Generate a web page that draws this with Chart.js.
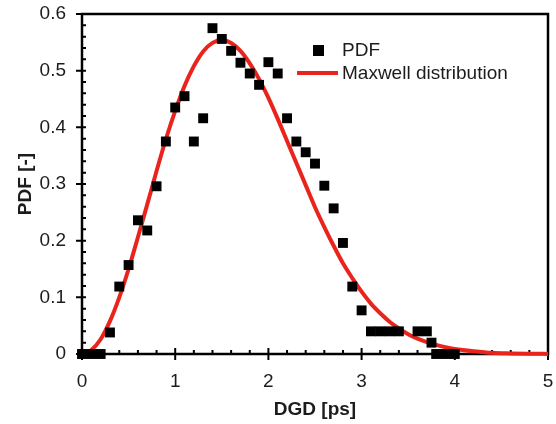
<!DOCTYPE html>
<html>
<head>
<meta charset="utf-8">
<script src="https://cdn.jsdelivr.net/npm/chart.js@4/dist/chart.umd.min.js"></script>
<style>
  html, body { margin: 0; padding: 0; background: #fff; }
</style>
</head>
<body>
<canvas id="my-chart" width="556" height="424"></canvas>
<script>
// measured DGD histogram (squares)
const pdfX = [0, 0.1, 0.2, 0.3, 0.4, 0.5, 0.6, 0.7, 0.8, 0.9, 1.0, 1.1, 1.2, 1.3, 1.4, 1.5, 1.6, 1.7, 1.8, 1.9,
              2.0, 2.1, 2.2, 2.3, 2.4, 2.5, 2.6, 2.7, 2.8, 2.9, 3.0, 3.1, 3.2, 3.3, 3.4, 3.6, 3.7, 3.75, 3.8, 3.9, 4.0];
const pdfY = [0, 0, 0, 0.038, 0.119, 0.157, 0.236, 0.218, 0.296, 0.375, 0.435, 0.455, 0.375, 0.416, 0.575, 0.556, 0.535, 0.514, 0.495, 0.475,
              0.515, 0.495, 0.416, 0.375, 0.356, 0.336, 0.297, 0.257, 0.196, 0.119, 0.077, 0.04, 0.04, 0.04, 0.04, 0.04, 0.04, 0.02, 0, 0, 0];

// fitted Maxwell curve
const curveX = [0, 0.1, 0.2, 0.3, 0.4, 0.5, 0.6, 0.7, 0.8, 0.9, 1.0, 1.1, 1.2, 1.3, 1.4, 1.5, 1.6, 1.7, 1.8, 1.9,
                2.0, 2.1, 2.2, 2.3, 2.4, 2.5, 2.6, 2.7, 2.8, 2.9, 3.0, 3.1, 3.2, 3.3, 3.4, 3.5, 3.6, 3.7, 3.8, 3.9,
                4.0, 4.2, 4.4, 4.6, 4.8, 5.0];
const curveY = [0, 0.007, 0.026, 0.058, 0.100, 0.150, 0.206, 0.264, 0.323, 0.379, 0.429, 0.473, 0.508, 0.534, 0.549, 0.554, 0.549, 0.535, 0.513, 0.485,
                0.452, 0.415, 0.376, 0.337, 0.298, 0.259, 0.224, 0.191, 0.160, 0.134, 0.110, 0.089, 0.072, 0.057, 0.045, 0.035, 0.027, 0.021, 0.016, 0.012,
                0.009, 0.005, 0.002, 0.001, 0.0005, 0.0002];

const xTicks = [0, 1, 2, 3, 4, 5];
const yTicks = [0, 0.1, 0.2, 0.3, 0.4, 0.5, 0.6];

const seriesNames = ['PDF', 'Maxwell distribution'];
const curveColor = 'rgb(232, 36, 28)';
const fontFamily = '"Liberation Sans", Arial, sans-serif';
const textColor = '#1c1c1c';

// frame, crossing major ticks and inward minor ticks
const framePlugin = {
    id: 'frame',
    beforeDatasetsDraw(chart) {
        const ctx = chart.ctx;
        const a = chart.chartArea;
        const xs = chart.scales.x, ys = chart.scales.y;
        ctx.save();
        ctx.strokeStyle = '#000';
        ctx.lineWidth = 2.5;
        ctx.strokeRect(a.left, a.top, a.right - a.left, a.bottom - a.top);
        ctx.lineWidth = 2;
        ctx.beginPath();
        for (let i = 0; i <= 25; i++) {
            const px = xs.getPixelForValue(i * 0.2);
            if (i % 5 === 0) { ctx.moveTo(px, a.bottom - 6); ctx.lineTo(px, a.bottom + 6); }
            else { ctx.moveTo(px, a.bottom); ctx.lineTo(px, a.bottom - 4); }
        }
        for (let i = 0; i <= 30; i++) {
            const py = ys.getPixelForValue(i * 0.02);
            if (i % 5 === 0) { ctx.moveTo(a.left - 6, py); ctx.lineTo(a.left + 4, py); }
            else { ctx.moveTo(a.left, py); ctx.lineTo(a.left + 4, py); }
        }
        ctx.stroke();
        ctx.restore();
    }
};

// legend inside the plot, top right
const legendPlugin = {
    id: 'innerLegend',
    afterDraw(chart) {
        const ctx = chart.ctx;
        const ds = chart.data.datasets;
        ctx.save();
        ctx.font = '19px ' + fontFamily;
        ctx.textBaseline = 'middle';
        ctx.textAlign = 'left';
        // square marker
        ctx.fillStyle = ds[0].backgroundColor;
        ctx.fillRect(313, 45, 11, 11);
        ctx.fillStyle = textColor;
        ctx.fillText(ds[0].label, 342, 51);
        // line marker
        ctx.strokeStyle = ds[1].borderColor;
        ctx.lineWidth = 4;
        ctx.beginPath();
        ctx.moveTo(297, 73);
        ctx.lineTo(338, 73);
        ctx.stroke();
        ctx.fillText(ds[1].label, 342, 74);
        ctx.restore();
    }
};

const canvas = document.getElementById('my-chart').getContext('2d');
const chart = new Chart(canvas, {
    type: 'scatter',
    data: {
        datasets: [{
            label: seriesNames[0],
            data: pdfX.map((x, i) => ({ x: x, y: pdfY[i] })),
            backgroundColor: '#000',
            borderWidth: 0,
            pointStyle: 'rect',
            pointRadius: 7,
            clip: false
        }, {
            label: seriesNames[1],
            type: 'line',
            data: curveX.map((x, i) => ({ x: x, y: curveY[i] })),
            borderColor: curveColor,
            borderWidth: 4,
            pointRadius: 0,
            cubicInterpolationMode: 'monotone',
            fill: false,
            clip: false
        }]
    },
    options: {
        responsive: false,
        animation: false,
        layout: { padding: { left: 0, right: 8, top: 14, bottom: 0 } },
        plugins: {
            legend: { display: false },
            tooltip: { enabled: false }
        },
        scales: {
            x: {
                type: 'linear',
                min: 0,
                max: 5,
                afterBuildTicks: (s) => { s.ticks = xTicks.map(v => ({ value: v })); },
                afterFit: (s) => { s.height = 70; s.paddingLeft = 0; s.paddingRight = 0; },
                grid: { display: false, drawTicks: false },
                border: { display: false },
                ticks: {
                    padding: 16,
                    color: textColor,
                    font: { family: fontFamily, size: 19 }
                },
                title: {
                    display: true,
                    text: 'DGD [ps]',
                    color: textColor,
                    padding: { top: 0, bottom: 3 },
                    font: { family: fontFamily, size: 19, weight: 'bold' }
                }
            },
            y: {
                type: 'linear',
                min: 0,
                max: 0.6,
                afterBuildTicks: (s) => { s.ticks = yTicks.map(v => ({ value: v })); },
                afterFit: (s) => { s.width = 82; s.paddingTop = 0; s.paddingBottom = 0; },
                grid: { display: false, drawTicks: false },
                border: { display: false },
                ticks: {
                    padding: 16,
                    color: textColor,
                    font: { family: fontFamily, size: 19 },
                    callback: (v) => String(Math.round(v * 10) / 10)
                },
                title: {
                    display: true,
                    text: 'PDF [-]',
                    color: textColor,
                    padding: { top: 14, bottom: 0 },
                    font: { family: fontFamily, size: 19, weight: 'bold' }
                }
            }
        }
    },
    plugins: [framePlugin, legendPlugin]
});
</script>
</body>
</html>
